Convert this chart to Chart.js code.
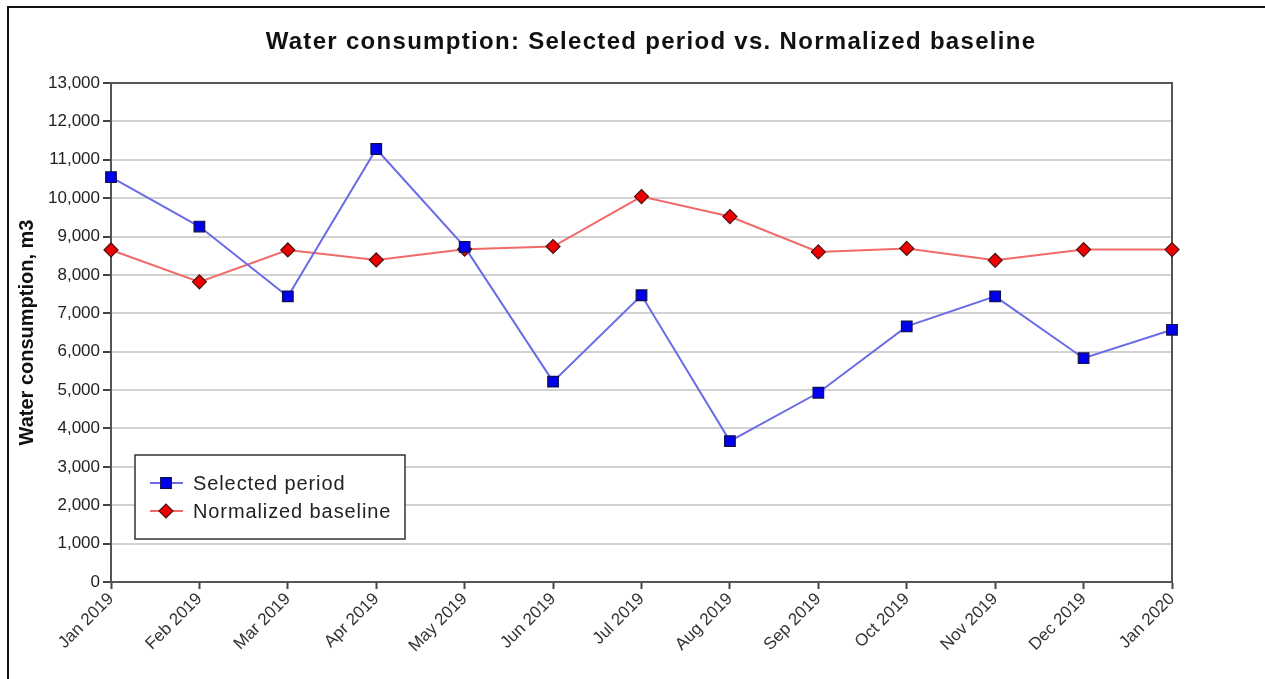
<!DOCTYPE html>
<html>
<head>
<meta charset="utf-8">
<title>Water consumption</title>
<script src="https://cdn.jsdelivr.net/npm/chart.js@4.4.1/dist/chart.umd.min.js"></script>
<style>
  html, body { margin: 0; padding: 0; background: #fff; overflow: hidden; }
  #wrap { position: relative; width: 1265px; height: 679px; }
  #frame {
    position: absolute; left: 7px; top: 6px; right: -10px; bottom: -10px;
    border-top: 2px solid #111; border-left: 2px solid #111; pointer-events: none;
  }
</style>
</head>
<body>
<div id="wrap">
  <canvas id="chart" width="1265" height="679"></canvas>
  <div id="frame"></div>
</div>
<script>
const months = ['Jan 2019', 'Feb 2019', 'Mar 2019', 'Apr 2019', 'May 2019', 'Jun 2019',
                'Jul 2019', 'Aug 2019', 'Sep 2019', 'Oct 2019', 'Nov 2019', 'Dec 2019', 'Jan 2020'];
const selectedPeriod = [10550, 9260, 7440, 11280, 8730, 5220, 7470, 3670, 4930, 6660, 7440, 5830, 6570];
const normalizedBaseline = [8650, 7820, 8650, 8390, 8670, 8740, 10040, 9520, 8600, 8690, 8380, 8660, 8660];

const chartTitle = 'Water consumption: Selected period vs. Normalized baseline';
const yAxisTitle = 'Water consumption, m3';

const FONT = '"Liberation Sans", Arial, sans-serif';

// Chart title drawn above the plot frame
const titlePlugin = {
  id: 'topTitle',
  afterDraw(chart) {
    const ctx = chart.ctx;
    ctx.save();
    ctx.font = 'bold 24px ' + FONT;
    ctx.letterSpacing = '1.3px';
    ctx.fillStyle = '#111';
    ctx.textAlign = 'center';
    ctx.textBaseline = 'middle';
    ctx.fillText(chartTitle, 651, 42);
    ctx.restore();
  }
};

// Top and right edges of the plot frame
const framePlugin = {
  id: 'plotFrame',
  beforeDatasetsDraw(chart) {
    const {ctx, chartArea: a} = chart;
    ctx.save();
    ctx.strokeStyle = '#555';
    ctx.lineWidth = 2;
    ctx.beginPath();
    ctx.moveTo(a.left, a.top);
    ctx.lineTo(a.right, a.top);
    ctx.lineTo(a.right, a.bottom);
    ctx.stroke();
    ctx.restore();
  }
};

// Boxed legend inside the plot, lower left
const boxLegendPlugin = {
  id: 'boxLegend',
  afterDatasetsDraw(chart) {
    const {ctx, chartArea: a} = chart;
    const x0 = a.left + 24, y0 = a.top + 372, w = 270, h = 84;
    ctx.save();
    ctx.fillStyle = '#fff';
    ctx.fillRect(x0, y0, w, h);
    ctx.strokeStyle = '#333';
    ctx.lineWidth = 1.5;
    ctx.strokeRect(x0, y0, w, h);
    chart.data.datasets.forEach((ds, i) => {
      const cy = y0 + 28 + i * 28;
      ctx.strokeStyle = ds.borderColor;
      ctx.lineWidth = ds.borderWidth;
      ctx.beginPath();
      ctx.moveTo(x0 + 15, cy);
      ctx.lineTo(x0 + 48, cy);
      ctx.stroke();
      ctx.fillStyle = ds.pointBackgroundColor;
      ctx.strokeStyle = ds.pointBorderColor;
      ctx.lineWidth = ds.pointBorderWidth;
      Chart.helpers.drawPoint(ctx, {
        pointStyle: ds.pointStyle, radius: ds.pointRadius, rotation: 0, borderWidth: ds.pointBorderWidth
      }, x0 + 31, cy);
      ctx.fillStyle = '#222';
      ctx.font = '20px ' + FONT;
      ctx.letterSpacing = '0.9px';
      ctx.textAlign = 'left';
      ctx.textBaseline = 'middle';
      ctx.fillText(ds.label, x0 + 58, cy + 1);
    });
    ctx.restore();
  }
};

new Chart(document.getElementById('chart'), {
  type: 'line',
  data: {
    labels: months,
    datasets: [
      {
        label: 'Selected period',
        data: selectedPeriod,
        borderColor: '#6b6be8',
        borderWidth: 2,
        pointStyle: 'rect',
        pointRadius: 7.5,
        pointBackgroundColor: '#0000ee',
        pointBorderColor: '#10104a',
        pointBorderWidth: 1.2,
        tension: 0
      },
      {
        label: 'Normalized baseline',
        data: normalizedBaseline,
        borderColor: '#f06a6a',
        borderWidth: 2,
        pointStyle: 'rectRot',
        pointRadius: 7,
        pointBackgroundColor: '#ee0000',
        pointBorderColor: '#4a1010',
        pointBorderWidth: 1.2,
        tension: 0
      }
    ]
  },
  options: {
    responsive: false,
    animation: false,
    events: [],
    layout: { padding: { top: 83, right: 93, left: 0, bottom: 0 } },
    plugins: {
      legend: { display: false },
      title: { display: false },
      tooltip: { enabled: false }
    },
    scales: {
      x: {
        offset: false,
        grid: { drawOnChartArea: false, drawTicks: true, tickLength: 7, tickColor: '#444', tickWidth: 2 },
        border: { color: '#555', width: 2 },
        ticks: {
          autoSkip: false, minRotation: 45, maxRotation: 45, padding: 0,
          color: '#333', font: { family: FONT, size: 17 }
        },
        afterFit(scale) { scale.height = 97; }
      },
      y: {
        min: 0,
        max: 13000,
        grid: { color: '#d2d2d2', lineWidth: 2, drawTicks: true, tickLength: 8, tickColor: '#444', tickWidth: 2 },
        border: { color: '#555', width: 2 },
        ticks: {
          stepSize: 1000, padding: 3, color: '#222',
          font: { family: FONT, size: 17 },
          callback: v => v.toLocaleString('en-US')
        },
        title: {
          display: true, text: yAxisTitle, color: '#111',
          font: { family: FONT, size: 20, weight: 'bold' },
          padding: { top: 15, bottom: 0 }
        },
        afterFit(scale) { scale.width = 111; }
      }
    }
  },
  plugins: [titlePlugin, framePlugin, boxLegendPlugin]
});
</script>
</body>
</html>
